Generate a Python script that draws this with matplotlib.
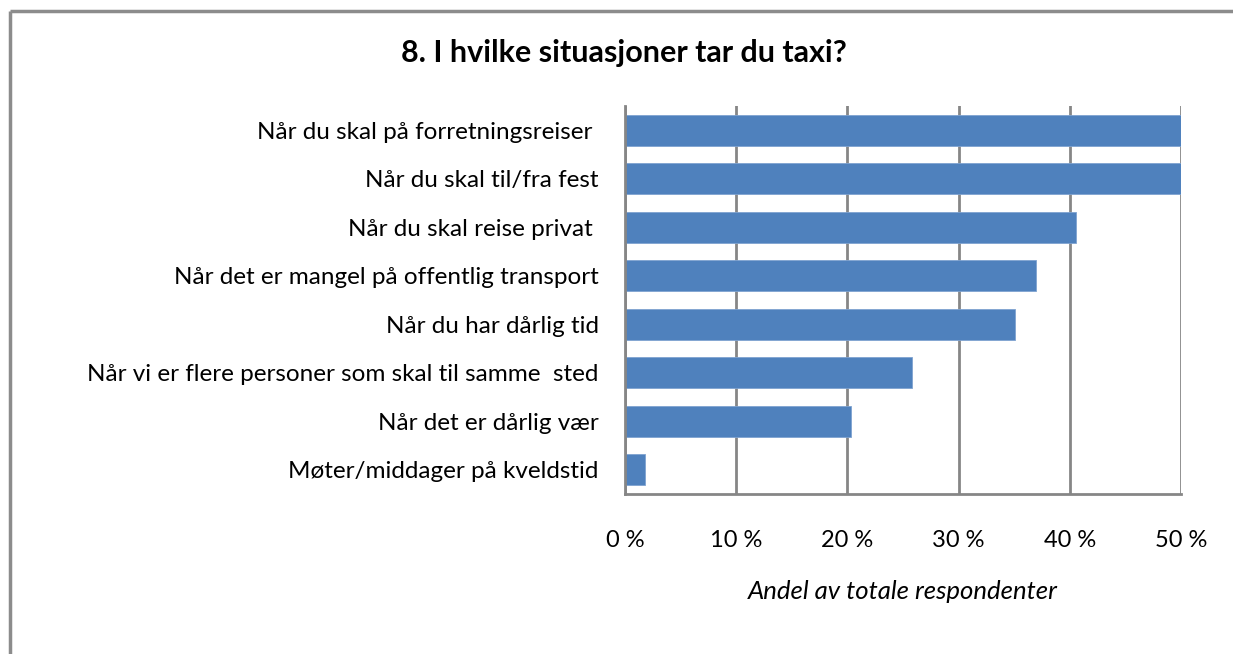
import matplotlib
matplotlib.use("Agg")
import matplotlib.pyplot as plt
from matplotlib.lines import Line2D

# Answers to question 8 (share of all respondents, %)
categories = [
    "Når du skal på forretningsreiser ",
    "Når du skal til/fra fest",
    "Når du skal reise privat ",
    "Når det er mangel på offentlig transport",
    "Når du har dårlig tid",
    "Når vi er flere personer som skal til samme  sted",
    "Når det er dårlig vær",
    "Møter/middager på kveldstid",
]
values = [56.0, 53.0, 40.6, 37.0, 35.1, 25.8, 20.3, 1.8]
ticks = [0, 10, 20, 30, 40, 50]
tick_labels = ["0 %", "10 %", "20 %", "30 %", "40 %", "50 %"]

plt.rcParams["font.family"] = ["Lato", "DejaVu Sans"]

fig = plt.figure(figsize=(12.33, 6.54), dpi=100)
ax = fig.add_axes([625 / 1233, 1 - 494 / 654, 556 / 1233, 388 / 654])

# outer chart frame (only top and left edges show in the reference)
frame_x = 9.5 / 1233
frame_y = 1 - 11 / 654
fig.add_artist(Line2D([frame_x, 1.02], [frame_y, frame_y], transform=fig.transFigure,
                      color="#8c8c8c", linewidth=2.5, solid_capstyle="butt"))
fig.add_artist(Line2D([frame_x, frame_x], [-0.02, frame_y], transform=fig.transFigure,
                      color="#8c8c8c", linewidth=2.5, solid_capstyle="butt"))

ypos = list(range(len(categories)))
ax.barh(ypos, values, height=0.64, color="#4F81BD", edgecolor="#7fa3d0",
        linewidth=0.6, zorder=3)
ax.set_ylim(len(categories) - 0.5, -0.5)
ax.set_xlim(0, 50)
ax.set_yticks(ypos)
ax.set_yticklabels(categories, fontsize=17.5)
ax.set_xticks(ticks)
ax.set_xticklabels(tick_labels, fontsize=17)
ax.tick_params(length=0)
ax.tick_params(axis="y", pad=19)
ax.tick_params(axis="x", pad=26)

ax.grid(axis="x", color="#868686", linewidth=2, zorder=0)
for side in ["top", "right"]:
    ax.spines[side].set_visible(False)
for side in ["left", "bottom"]:
    ax.spines[side].set_color("#868686")
    ax.spines[side].set_linewidth(2)
    ax.spines[side].set_zorder(4)

ax.set_xlabel("Andel av totale respondenter", fontsize=18.5, style="italic",
              labelpad=21)

fig.text(624 / 1233, 1 - 53 / 654, "8. I hvilke situasjoner tar du taxi?",
         ha="center", va="center", fontsize=22, fontweight="bold")

fig.savefig("out.png", dpi=100)
